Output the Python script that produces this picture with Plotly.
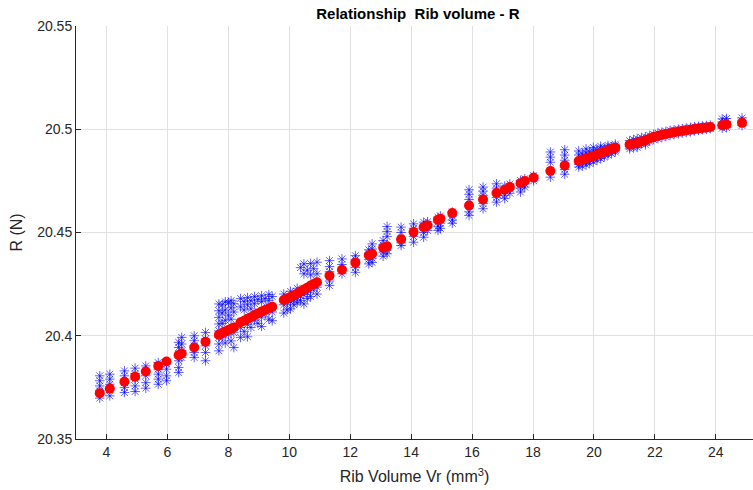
import plotly.graph_objects as go

# ---- data ----
red_x = [3.78, 4.11, 4.59, 4.94, 5.29, 5.70, 5.97, 6.37, 6.47, 6.88, 7.25,
         7.69, 7.80, 7.90, 8.00, 8.09, 8.18,
         8.40, 8.52, 8.63, 8.74, 8.86, 8.97, 9.09, 9.21, 9.33, 9.44,
         9.82, 9.93, 10.04, 10.15, 10.26, 10.37, 10.48, 10.59, 10.70, 10.80, 10.91,
         11.32, 11.73, 12.17, 12.61, 12.72, 13.08, 13.21, 13.67, 14.08, 14.41, 14.54,
         14.88, 14.96, 15.35, 15.90, 16.36, 16.80, 17.07, 17.24, 17.59, 17.73, 18.02,
         18.57, 19.04,
         19.50, 19.62, 19.74, 19.86, 19.98, 20.10, 20.22, 20.34, 20.46, 20.58, 20.70,
         21.17, 21.30, 21.42, 21.56, 21.69, 21.83, 21.96, 22.10, 22.23, 22.36, 22.50,
         22.63, 22.77, 22.90, 23.03, 23.17, 23.30, 23.43, 23.56, 23.69, 23.82,
         24.21, 24.35, 24.86]
red_y = [20.3722, 20.3744, 20.3777, 20.3802, 20.3827, 20.3854, 20.3875, 20.3906, 20.3914, 20.3943, 20.3971,
         20.4005, 20.4013, 20.4021, 20.4028, 20.4034, 20.4040,
         20.4065, 20.4073, 20.4082, 20.4090, 20.4100, 20.4108, 20.4117, 20.4125, 20.4133, 20.4140,
         20.4173, 20.4180, 20.4188, 20.4196, 20.4205, 20.4214, 20.4224, 20.4233, 20.4243, 20.4251, 20.4259,
         20.4291, 20.4320, 20.4354, 20.4390, 20.4397, 20.4426, 20.4433, 20.4467, 20.4502, 20.4526, 20.4534,
         20.4562, 20.4566, 20.4594, 20.4631, 20.4660, 20.4691, 20.4707, 20.4720, 20.4739, 20.4749, 20.4766,
         20.4798, 20.4825,
         20.4846, 20.4852, 20.4858, 20.4864, 20.4870, 20.4877, 20.4884, 20.4891, 20.4898, 20.4905, 20.4911,
         20.4926, 20.4930, 20.4934, 20.4941, 20.4947, 20.4955, 20.4962, 20.4968, 20.4973, 20.4977, 20.4981,
         20.4985, 20.4989, 20.4992, 20.4995, 20.4998, 20.5001, 20.5004, 20.5006, 20.5009, 20.5011,
         20.5019, 20.5023, 20.5031]

blue_x = [3.78, 4.11, 4.59, 4.94, 5.29, 5.70, 5.97, 6.37, 6.47, 6.88, 7.25,
          7.69, 7.80, 7.90, 8.00, 8.09, 8.18,
          8.40, 8.52, 8.63, 8.74, 8.86, 8.97, 9.09, 9.21, 9.33, 9.44,
          9.82, 9.93, 10.04, 10.15, 10.26, 10.37, 10.48, 10.59, 10.70, 10.80, 10.91,
          11.32, 11.73, 12.17, 12.61, 12.72, 13.08, 13.21, 13.67, 14.08, 14.41, 14.54,
          14.88, 14.96, 15.35, 15.90, 16.36, 16.80, 17.07, 17.24, 17.59, 17.73, 18.02,
          18.57, 19.04,
          19.50, 19.62, 19.74, 19.86, 19.98, 20.10, 20.22, 20.34, 20.46, 20.58, 20.70,
          21.17, 21.30, 21.42, 21.56, 21.69, 21.83, 21.96, 22.10, 22.23, 22.36, 22.50,
          22.63, 22.77, 22.90, 23.03, 23.17, 23.30, 23.43, 23.56, 23.69, 23.82,
          24.21, 24.35, 24.86]
blue_y = [
    [20.3806, 20.3782, 20.3757, 20.3733, 20.3698],
    [20.3814, 20.3790, 20.3765, 20.3741, 20.3709],
    [20.3830, 20.3806, 20.3773, 20.3749, 20.3725],
    [20.3843, 20.3817, 20.3790, 20.3757, 20.3730],
    [20.3854, 20.3830, 20.3806, 20.3773, 20.3746],
    [20.3870, 20.3838, 20.3814, 20.3790, 20.3765],
    [20.3863, 20.3838, 20.3806, 20.3782],
    [20.3968, 20.3943, 20.3911, 20.3879, 20.3846, 20.3822],
    [20.3992, 20.3960, 20.3927, 20.3895],
    [20.4000, 20.3976, 20.3951, 20.3919, 20.3895],
    [20.4016, 20.3984, 20.3951, 20.3919, 20.3879],
    [20.4154, 20.4121, 20.4089, 20.4057, 20.4024, 20.3992, 20.3960, 20.3927],
    [20.4150, 20.4110, 20.4060, 20.3990],
    [20.4165, 20.4125, 20.4075, 20.3965],
    [20.4160, 20.4100, 20.4005],
    [20.4170, 20.4135, 20.4080, 20.3975],
    [20.4155, 20.4115, 20.4015, 20.3943],
    [20.4180, 20.4140, 20.4040, 20.3992],
    [20.4165, 20.4125, 20.4020],
    [20.4185, 20.4150, 20.4055, 20.3995],
    [20.4170, 20.4130, 20.4040],
    [20.4190, 20.4155, 20.4075],
    [20.4175, 20.4060],
    [20.4194, 20.4165, 20.4090, 20.4045],
    [20.4180, 20.4105],
    [20.4200, 20.4170, 20.4080],
    [20.4190, 20.4115, 20.4073],
    [20.4202, 20.4150, 20.4110],
    [20.4160, 20.4125],
    [20.4215, 20.4165, 20.4130],
    [20.4175, 20.4150],
    [20.4230, 20.4185, 20.4160],
    [20.4330, 20.4195, 20.4170],
    [20.4348, 20.4300, 20.4200, 20.4154],
    [20.4318, 20.4210, 20.4180],
    [20.4350, 20.4295, 20.4220, 20.4190],
    [20.4325, 20.4230],
    [20.4356, 20.4300, 20.4235, 20.4202],
    [20.4364, 20.4335, 20.4310, 20.4265, 20.4243],
    [20.4372, 20.4345, 20.4300],
    [20.4388, 20.4370, 20.4330, 20.4307],
    [20.4416, 20.4400, 20.4370, 20.4348],
    [20.4445, 20.4420, 20.4375, 20.4355],
    [20.4461, 20.4440, 20.4405, 20.4385],
    [20.4529, 20.4505, 20.4480, 20.4415, 20.4397],
    [20.4526, 20.4500, 20.4450, 20.4437],
    [20.4542, 20.4520, 20.4480, 20.4453],
    [20.4550, 20.4530, 20.4500, 20.4477],
    [20.4552, 20.4540, 20.4510],
    [20.4574, 20.4550, 20.4530, 20.4510],
    [20.4580, 20.4545, 20.4520],
    [20.4599, 20.4580, 20.4560, 20.4545],
    [20.4707, 20.4685, 20.4660, 20.4600, 20.4583],
    [20.4720, 20.4700, 20.4680, 20.4640, 20.4615],
    [20.4736, 20.4715, 20.4670, 20.4647],
    [20.4725, 20.4700, 20.4680, 20.4664],
    [20.4735, 20.4710, 20.4690],
    [20.4752, 20.4730, 20.4715, 20.4696],
    [20.4760, 20.4735, 20.4720],
    [20.4775, 20.4760, 20.4750],
    [20.4890, 20.4865, 20.4840, 20.4800, 20.4768],
    [20.4901, 20.4875, 20.4850, 20.4805, 20.4782],
    [20.4895, 20.4875, 20.4830, 20.4817],
    [20.4880, 20.4822],
    [20.4905, 20.4885, 20.4845, 20.4828],
    [20.4890, 20.4835],
    [20.4912, 20.4895, 20.4856, 20.4842],
    [20.4900, 20.4850],
    [20.4918, 20.4905, 20.4870, 20.4858],
    [20.4908, 20.4866],
    [20.4922, 20.4912, 20.4885, 20.4875],
    [20.4915, 20.4882],
    [20.4928, 20.4920, 20.4898, 20.4890],
    [20.4945, 20.4915, 20.4905],
    [20.4950, 20.4910],
    [20.4955, 20.4922, 20.4912],
    [20.4960, 20.4930],
    [20.4963, 20.4935, 20.4925],
    [20.4970, 20.4942],
    [20.4975, 20.4950],
    [20.4982, 20.4955],
    [20.4986, 20.4960],
    [20.4990, 20.4965],
    [20.4994, 20.4970],
    [20.4997, 20.4974],
    [20.5000, 20.4978],
    [20.5003, 20.4982],
    [20.5006, 20.4985],
    [20.5009, 20.4988],
    [20.5012, 20.4992],
    [20.5014, 20.4995],
    [20.5016, 20.4998],
    [20.5018, 20.5000],
    [20.5020, 20.5003],
    [20.5050, 20.5035, 20.5005],
    [20.5052, 20.5038, 20.5008],
    [20.5055, 20.5040, 20.5018],
]

x_ticks = [4, 6, 8, 10, 12, 14, 16, 18, 20, 22, 24]
y_ticks = [20.35, 20.4, 20.45, 20.5, 20.55]
y_tick_labels = ["20.35", "20.4", "20.45", "20.5", "20.55"]

title_text = "<b>Relationship \u00a0Rib volume - R</b>"
x_title = "Rib Volume Vr (mm<sup>3</sup>)"
y_title = "R (N)"

# ---- build ----
bx, by = [], []
for xv, ys in zip(blue_x, blue_y):
    for yv in ys:
        bx.append(xv)
        by.append(yv)

FONT = "Liberation Sans, Arial, Helvetica, sans-serif"
AX = "#262626"
GRID = "#e1e1e1"

fig = go.Figure()
fig.add_trace(go.Scatter(
    x=bx, y=by, mode="markers",
    marker=dict(symbol="asterisk-open", size=8, color="rgba(0,0,255,0.7)",
                line=dict(color="rgba(0,0,255,0.7)", width=0.9)),
    showlegend=False, hoverinfo="skip"))
fig.add_trace(go.Scatter(
    x=red_x, y=red_y, mode="markers",
    marker=dict(symbol="circle", size=10, color="#ff0000",
                line=dict(width=0)),
    showlegend=False))

fig.update_layout(
    width=753, height=490,
    margin=dict(l=76, r=0, t=26, b=51),
    paper_bgcolor="white", plot_bgcolor="white",
    font=dict(family=FONT, size=14, color=AX),
    title=dict(text=title_text, x=0.555, xanchor="center", y=0.972, yanchor="middle",
               font=dict(family=FONT, size=15, color="#000000")),
    showlegend=False,
)
fig.update_xaxes(
    range=[3.0, 25.22], tickvals=x_ticks, ticks="inside", ticklen=5,
    tickcolor=AX, showline=True, linecolor=AX, linewidth=1,
    showgrid=True, gridcolor=GRID, gridwidth=1, zeroline=False,
    tickfont=dict(size=14, color=AX),
    title=dict(text=x_title, font=dict(size=16, color=AX), standoff=12),
)
fig.update_yaxes(
    range=[20.35, 20.55], tickvals=y_ticks, ticktext=y_tick_labels,
    ticks="inside", ticklen=5, tickcolor=AX, showline=True, linecolor=AX,
    linewidth=1, showgrid=True, gridcolor=GRID, gridwidth=1, zeroline=False,
    tickfont=dict(size=14, color=AX),
    title=dict(text=y_title, font=dict(size=16, color=AX), standoff=10),
)

fig.write_html("out.html")
